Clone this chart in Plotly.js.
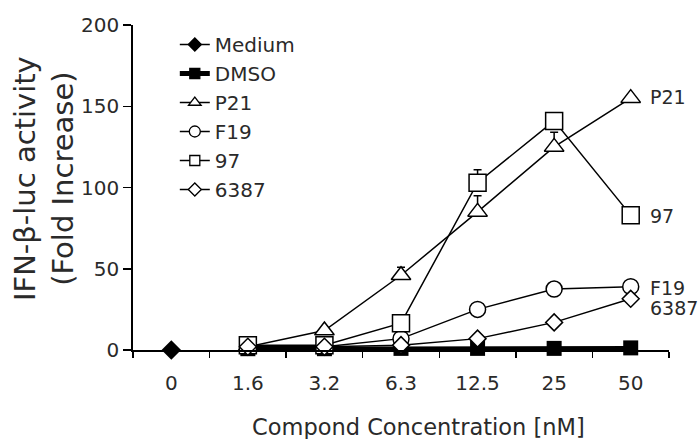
<!DOCTYPE html>
<html>
<head>
<meta charset="utf-8">
<script src="https://cdn.plot.ly/plotly-3.0.1.min.js"></script>
<style>html,body{margin:0;padding:0;background:#fff;}#chart{width:698px;height:439px;}</style>
</head>
<body>
<div id="chart"></div>
<script>
var categories = ["0", "1.6", "3.2", "6.3", "12.5", "25", "50"];
var doseCats = ["1.6", "3.2", "6.3", "12.5", "25", "50"];
var mediumX = ["0"];
var mediumY = [0];
var dmsoY = [0.8, 0.8, 1, 1, 1, 1.3];
var p21Y = [2, 12, 46, 85, 125, 155];
var p21Err = [0, 0, 5, 10, 9, 0];
var f19Y = [2, 2, 7, 25, 37.5, 39];
var c97Y = [3, 3, 16.5, 103, 141, 83];
var c97Err = [0, 0, 0, 8, 5, 0];
var c6387Y = [2, 2, 3, 7, 17, 31.5];
var zeroErr = [0, 0, 0, 0, 0, 0];
var yTicks = [0, 50, 100, 150, 200];
var seriesNames = ["Medium", "DMSO", "P21", "F19", "97", "6387"];
var endLabels = ["P21", "97", "F19", "6387"];
var endLabelY = [155.5, 82.5, 38, 26];

var FONT = "DejaVu Sans, Verdana, sans-serif";
var TXT = "#2a2a2a";

function openTrace(name, y, symbol, size, err) {
  var t = {
    name: name, x: doseCats, y: y, type: "scatter", mode: "lines+markers", showlegend: false,
    line: {color: "#000", width: 1.5},
    marker: {symbol: symbol, size: size, color: "#fff", line: {color: "#000", width: 1.5}},
    cliponaxis: false
  };
  if (err) t.error_y = {type: "data", symmetric: false, array: err, arrayminus: zeroErr, visible: true, color: "#000", thickness: 1.5, width: 4};
  return t;
}

var traces = [
  {name: "Medium", x: mediumX, y: mediumY, type: "scatter", mode: "lines+markers", showlegend: false,
   line: {color: "#000", width: 1.5},
   marker: {symbol: "diamond", size: 15, color: "#000"}, cliponaxis: false},
  {name: "DMSO", x: doseCats, y: dmsoY, type: "scatter", mode: "lines+markers", showlegend: false,
   line: {color: "#000", width: 4},
   marker: {symbol: "square", size: 15, color: "#000"}, cliponaxis: false},
  openTrace("P21", p21Y, "triangle-up", 17, p21Err),
  openTrace("F19", f19Y, "circle", 16),
  openTrace("97", c97Y, "square", 17, c97Err),
  openTrace("6387", c6387Y, "diamond", 13)
];

// legend keys (symbols only, no data)
var legendStyles = [
  {sym: "diamond", fill: "#000", lw: 1.5, size: 10},
  {sym: "square", fill: "#000", lw: 5, size: 10},
  {sym: "triangle-up", fill: "#fff", lw: 1.5, size: 11},
  {sym: "circle", fill: "#fff", lw: 1.5, size: 11},
  {sym: "square", fill: "#fff", lw: 1.5, size: 10},
  {sym: "diamond", fill: "#fff", lw: 1.5, size: 10}
];
seriesNames.forEach(function (n, i) {
  var s = legendStyles[i];
  traces.push({name: n, x: [null], y: [null], type: "scatter", mode: "lines+markers", showlegend: true,
    line: {color: "#000", width: s.lw},
    marker: {symbol: s.sym, size: s.size, color: s.fill, line: {color: "#000", width: 1.3}}});
});

var annotations = [
  {xref: "paper", yref: "paper", x: -0.166, y: 0.526, text: "IFN-β-luc activity<br>(Fold Increase)",
   textangle: -90, showarrow: false, font: {family: FONT, size: 29, color: TXT}, xanchor: "center", yanchor: "middle"},
  {xref: "paper", yref: "paper", x: 0.532, y: -0.237, text: "Compond Concentration [nM]",
   showarrow: false, font: {family: FONT, size: 22.5, color: TXT}, xanchor: "center", yanchor: "middle"}
];
endLabels.forEach(function (t, i) {
  annotations.push({xref: "paper", yref: "y", x: 0.961, y: endLabelY[i], text: t, showarrow: false,
    xanchor: "left", yanchor: "middle", font: {family: FONT, size: 19, color: TXT}});
});

var layout = {
  width: 698, height: 439,
  margin: {l: 133, r: 29, t: 25, b: 89},
  paper_bgcolor: "#fff", plot_bgcolor: "#fff",
  font: {family: FONT, size: 20, color: TXT},
  showlegend: true,
  legend: {x: 0.078, y: 1.0, xanchor: "left", yanchor: "top",
           font: {family: FONT, size: 20, color: TXT},
           bgcolor: "rgba(0,0,0,0)", tracegroupgap: 0},
  xaxis: {
    type: "category", categoryorder: "array", categoryarray: categories,
    range: [-0.5, 6.5], showgrid: false, zeroline: false,
    showline: true, linecolor: "#000", linewidth: 1.5,
    ticks: "outside", tickson: "boundaries", ticklen: 6, tickwidth: 1.5, tickcolor: "#000",
    ticklabelstandoff: 14,
    tickfont: {family: FONT, size: 20, color: TXT},
    fixedrange: true
  },
  yaxis: {
    range: [0, 200], tickvals: yTicks, showgrid: false, zeroline: false,
    showline: true, linecolor: "#000", linewidth: 1.8,
    ticks: "outside", ticklen: 8, tickwidth: 1.5, tickcolor: "#000",
    tickfont: {family: FONT, size: 20, color: TXT},
    fixedrange: true
  },
  annotations: annotations
};

Plotly.newPlot("chart", traces, layout, {displayModeBar: false, staticPlot: true});
</script>
</body>
</html>
